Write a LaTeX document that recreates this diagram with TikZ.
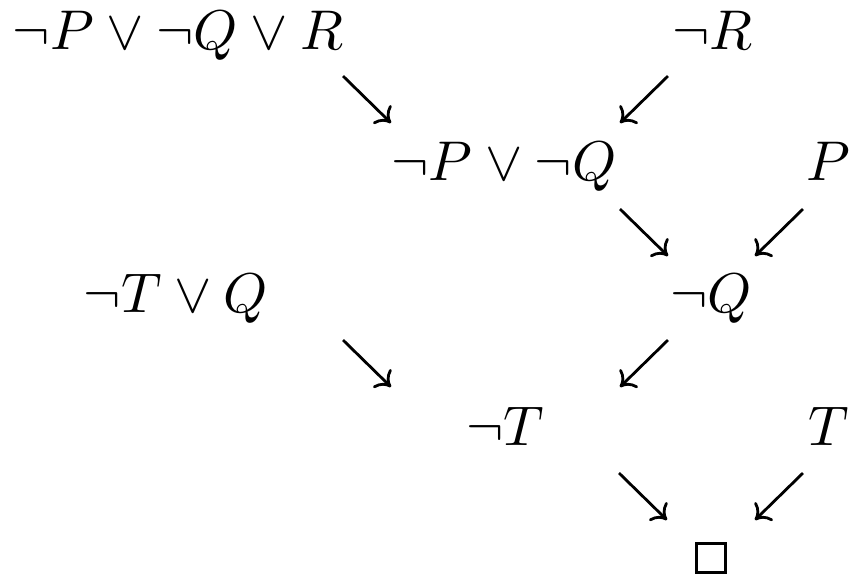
\documentclass[tikz,border=0pt]{standalone}
\usetikzlibrary{arrows.meta}
\tikzset{
  formula/.style={inner sep=0pt, anchor=base},
  arr/.style={line width=0.5pt, -{To[length=2.4pt,width=4.6pt]}},
  empty/.style={draw, line width=0.5pt, minimum size=5.2pt, inner sep=0pt}
}
\begin{document}
\begin{tikzpicture}[x=0.17857pt, y=-0.17857pt]
\useasboundingbox (0,0) rectangle (857,575);
% formulas
\node[formula] (n1) at (178,49) {$\neg P \lor \neg Q \lor R$};
\node[formula] (n2) at (712.5,49) {$\neg R$};
\node[formula] (n3) at (504,180) {$\neg P \lor \neg Q$};
\node[formula] (n4) at (828.5,180) {$P$};
\node[formula] (n5) at (176,312) {$\neg T \lor Q$};
\node[formula] (n6) at (711,312) {$\neg Q$};
\node[formula] (n7) at (505,445) {$\neg T$};
\node[formula] (n8) at (829,445) {$T$};
\node[empty] (n9) at (711,558) {};
% arrow end points
\coordinate (a1s) at (343,76);  \coordinate (a1e) at (391,123);
\coordinate (a2s) at (668,76);  \coordinate (a2e) at (620,123);
\coordinate (a3s) at (620,209); \coordinate (a3e) at (668,256);
\coordinate (a4s) at (803,209); \coordinate (a4e) at (755,256);
\coordinate (a5s) at (343,340); \coordinate (a5e) at (391,387);
\coordinate (a6s) at (668,340); \coordinate (a6e) at (620,387);
\coordinate (a7s) at (619,473); \coordinate (a7e) at (667,520);
\coordinate (a8s) at (803,473); \coordinate (a8e) at (755,520);
\draw[arr] (a1s) -- (a1e);
\draw[arr] (a2s) -- (a2e);
\draw[arr] (a3s) -- (a3e);
\draw[arr] (a4s) -- (a4e);
\draw[arr] (a5s) -- (a5e);
\draw[arr] (a6s) -- (a6e);
\draw[arr] (a7s) -- (a7e);
\draw[arr] (a8s) -- (a8e);
\end{tikzpicture}
\end{document}
